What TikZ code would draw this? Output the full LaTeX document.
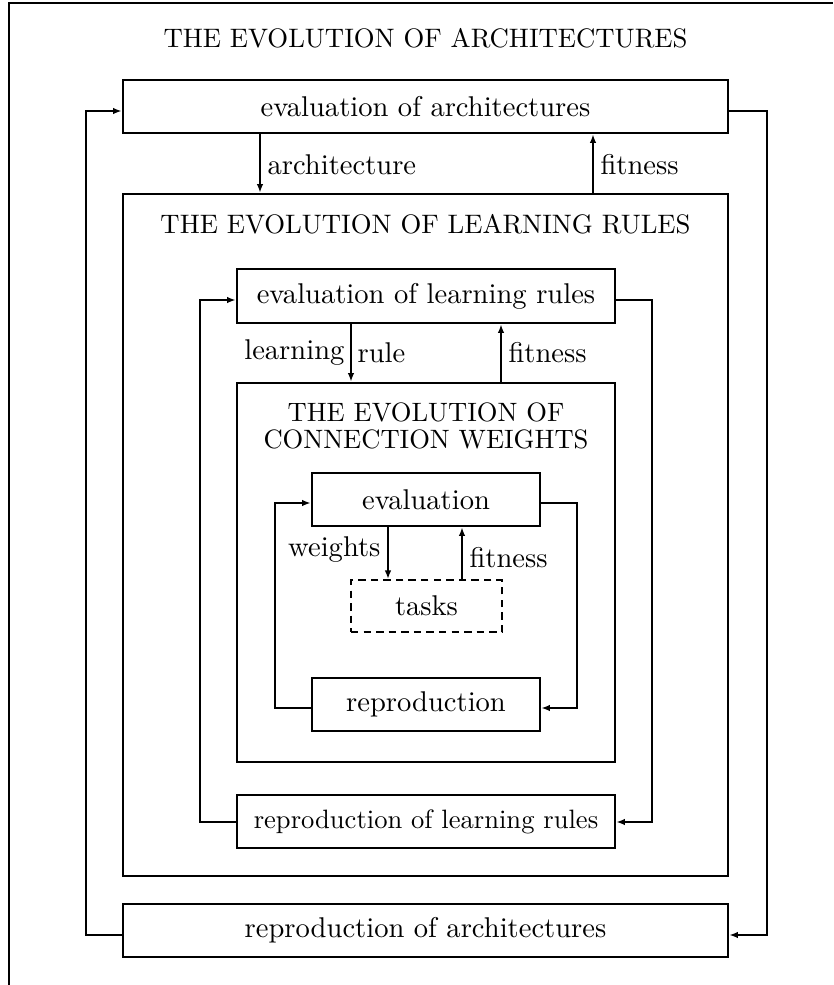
\documentclass[tikz,border=0pt]{standalone}
\usepackage{graphicx}
\usetikzlibrary{arrows.meta}
\begin{document}
\begin{tikzpicture}[x=0.35pt,y=-0.35pt,
  box/.style={draw, line width=0.95pt, inner sep=0pt, anchor=center, font=\fontsize{10}{12}\selectfont},
  dashbox/.style={box, line width=0.7pt, dashed, dash pattern=on 2.6pt off 1.8pt},
  conn/.style={line width=0.6pt},
  arr/.style={conn, -{Latex[length=3pt,width=2.3pt]}},
  lbl/.style={inner sep=0pt, font=\fontsize{10}{12}\selectfont},
  ttl/.style={inner sep=0pt, align=center, font=\fontsize{10}{11.4}\selectfont}]
\useasboundingbox (0,0) rectangle (833,985);
% outer frame
\coordinate (fb) at (9,985);
\coordinate (fc) at (9,3);
\coordinate (fr) at (833,3);
\draw[conn] (fb) -- (fc) -- (fr);
\node[ttl] (tA) at (425.5,38) {\scalebox{0.935}{THE EVOLUTION OF ARCHITECTURES}};
% boxes
\node[box, minimum width=605*0.35pt, minimum height=53*0.35pt] (evalArch) at (425.5,106.5) {evaluation of architectures};
\node[box, minimum width=605*0.35pt, minimum height=682*0.35pt] (bigLR) at (425.5,535) {};
\node[ttl] (tL) at (425.5,224) {\scalebox{0.935}{THE EVOLUTION OF LEARNING RULES}};
\node[box, minimum width=378*0.35pt, minimum height=54*0.35pt] (evalLR) at (426,296) {evaluation of learning rules};
\node[box, minimum width=378*0.35pt, minimum height=379*0.35pt] (bigCW) at (426,572.5) {};
\node[ttl] (tW) at (426,429) {\scalebox{0.93}{\begin{tabular}{@{}c@{}}THE EVOLUTION OF\\[-1.2pt]CONNECTION WEIGHTS\end{tabular}}};
\node[box, minimum width=228*0.35pt, minimum height=53*0.35pt] (evalW) at (426,499.5) {evaluation};
\node[dashbox, minimum width=151*0.35pt, minimum height=52*0.35pt] (tasks) at (426.5,606) {tasks};
\node[box, minimum width=228*0.35pt, minimum height=53*0.35pt] (reproW) at (426,704.5) {reproduction};
\node[box, minimum width=378*0.35pt, minimum height=53*0.35pt] (reproLR) at (426,821.5) {\scalebox{0.93}{reproduction of learning rules}};
\node[box, minimum width=605*0.35pt, minimum height=53*0.35pt] (reproArch) at (425.5,930.5) {reproduction of architectures};
% architecture level
\coordinate (ax) at (260,0);
\coordinate (fx) at (593,0);
\draw[arr] (evalArch.south -| ax) -- (bigLR.north -| ax);
\draw[arr] (bigLR.north -| fx) -- (evalArch.south -| fx);
\node[lbl, anchor=west] (lArch) at (267,165) {architecture};
\node[lbl, anchor=west] (lFitA) at (600,165) {fitness};
\coordinate (LA) at (86,935);
\coordinate (LAt) at (86,111);
\draw[arr] (reproArch.west |- LA) -- (LA) -- (LAt) -- (evalArch.west |- LAt);
\coordinate (RA) at (767,111);
\coordinate (RAb) at (767,935);
\draw[arr] (evalArch.east |- RA) -- (RA) -- (RAb) -- (reproArch.east |- RAb);
% learning rule level
\coordinate (lx) at (351,0);
\coordinate (gx) at (501,0);
\draw[arr] (evalLR.south -| lx) -- (bigCW.north -| lx);
\draw[arr] (bigCW.north -| gx) -- (evalLR.south -| gx);
\node[lbl, anchor=east] (lLearn) at (345,353) {learning};
\node[lbl, anchor=west] (lRule) at (357,353) {rule};
\node[lbl, anchor=west] (lFitL) at (508,353) {fitness};
\coordinate (LL) at (200,822);
\coordinate (LLt) at (200,300);
\draw[arr] (reproLR.west |- LL) -- (LL) -- (LLt) -- (evalLR.west |- LLt);
\coordinate (RL) at (652,300);
\coordinate (RLb) at (652,822);
\draw[arr] (evalLR.east |- RL) -- (RL) -- (RLb) -- (reproLR.east |- RLb);
% weight level
\coordinate (wx) at (388,0);
\coordinate (hx) at (462,0);
\draw[arr] (evalW.south -| wx) -- (tasks.north -| wx);
\draw[arr] (tasks.north -| hx) -- (evalW.south -| hx);
\node[lbl, anchor=east] (lW) at (381,550) {weights};
\node[lbl, anchor=west] (lFitW) at (469,558) {fitness};
\coordinate (LW) at (275,708);
\coordinate (LWt) at (275,503);
\draw[arr] (reproW.west |- LW) -- (LW) -- (LWt) -- (evalW.west |- LWt);
\coordinate (RW) at (577,503);
\coordinate (RWb) at (577,708);
\draw[arr] (evalW.east |- RW) -- (RW) -- (RWb) -- (reproW.east |- RWb);
\end{tikzpicture}
\end{document}
